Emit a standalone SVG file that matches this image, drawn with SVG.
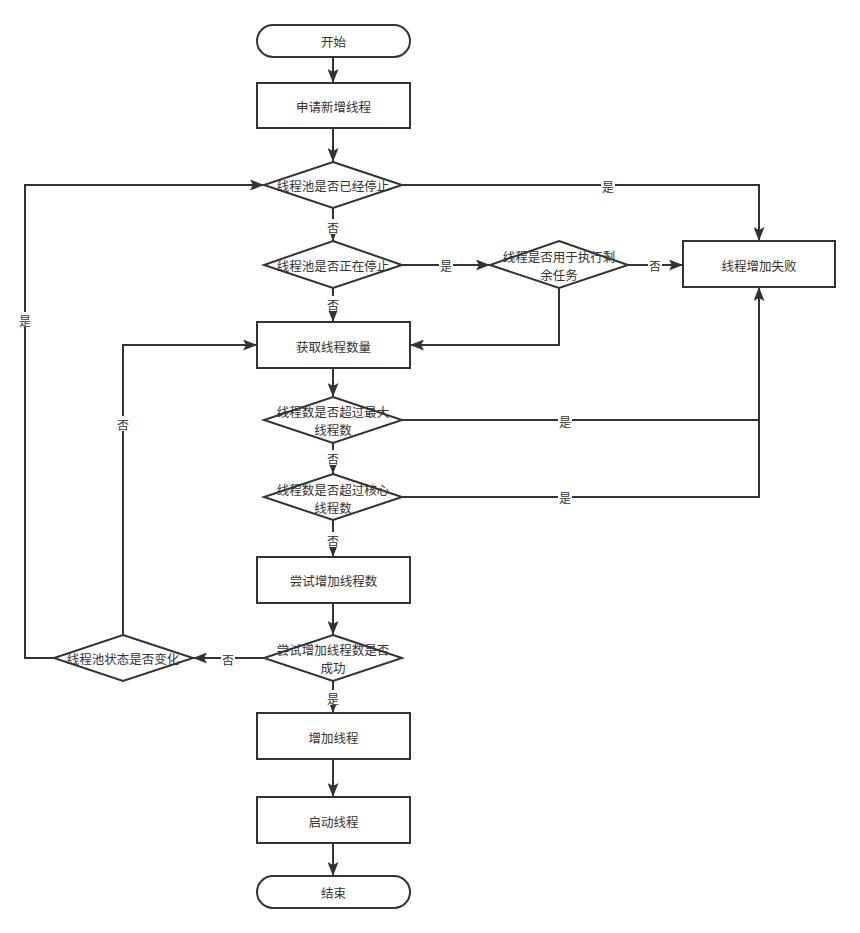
<svg xmlns="http://www.w3.org/2000/svg" width="860" height="933" viewBox="0 0 860 933">
<defs>
<marker id="arr" markerWidth="14" markerHeight="11" refX="14" refY="5.5" orient="auto" markerUnits="userSpaceOnUse">
<path d="M0,0 L14,5.5 L0,11 L3,5.5 z" fill="#333"/>
</marker>
<style>
.n{fill:#fff;stroke:#333;stroke-width:2}
.t{font-family:"Noto Sans CJK SC","Liberation Sans",sans-serif;font-size:12.5px;fill:#333;text-anchor:middle;dominant-baseline:central}
.e{fill:none;stroke:#333;stroke-width:2}
.lb{font-family:"Noto Sans CJK SC","Liberation Sans",sans-serif;font-size:12px;fill:#333;text-anchor:middle;dominant-baseline:central}
.bg{fill:#fff}
</style>
</defs>
<rect width="860" height="933" fill="#fff"/>
<g id="connectors">
<path class="e" d="M333,57 L333,83" marker-end="url(#arr)"/>
<path class="e" d="M333,128 L333,162" marker-end="url(#arr)"/>
<path class="e" d="M402,185 L759,185 L759,241" marker-end="url(#arr)"/>
<path class="e" d="M333,208 L333,241" marker-end="url(#arr)"/>
<path class="e" d="M402,265 L490,265" marker-end="url(#arr)"/>
<path class="e" d="M628,265 L683,265" marker-end="url(#arr)"/>
<path class="e" d="M559,288 L559,345 L410,345" marker-end="url(#arr)"/>
<path class="e" d="M333,288 L333,322" marker-end="url(#arr)"/>
<path class="e" d="M333,368 L333,397" marker-end="url(#arr)"/>
<path class="e" d="M402,420 L759,420 L759,287" marker-end="url(#arr)"/>
<path class="e" d="M402,497 L759,497 L759,420"/>
<path class="e" d="M333,443 L333,474" marker-end="url(#arr)"/>
<path class="e" d="M333,520 L333,557" marker-end="url(#arr)"/>
<path class="e" d="M333,603 L333,635" marker-end="url(#arr)"/>
<path class="e" d="M264,658 L193,658" marker-end="url(#arr)"/>
<path class="e" d="M333,681 L333,713" marker-end="url(#arr)"/>
<path class="e" d="M123,635 L123,345 L257,345" marker-end="url(#arr)"/>
<path class="e" d="M54,658 L25,658 L25,185 L264,185" marker-end="url(#arr)"/>
<path class="e" d="M333,759 L333,797" marker-end="url(#arr)"/>
<path class="e" d="M333,843 L333,876" marker-end="url(#arr)"/>
<g id="edge-labels">
<rect class="bg" x="601" y="178" width="14" height="15"/><text class="lb" x="608" y="186">是</text>
<rect class="bg" x="326" y="219" width="14" height="15"/><text class="lb" x="333" y="227">否</text>
<rect class="bg" x="439" y="257" width="14" height="15"/><text class="lb" x="446" y="265">是</text>
<rect class="bg" x="648" y="257" width="14" height="15"/><text class="lb" x="655" y="265">否</text>
<rect class="bg" x="326" y="296" width="14" height="15"/><text class="lb" x="333" y="304">否</text>
<rect class="bg" x="558" y="413" width="14" height="15"/><text class="lb" x="565" y="421">是</text>
<rect class="bg" x="326" y="450" width="14" height="15"/><text class="lb" x="333" y="458">否</text>
<rect class="bg" x="558" y="489" width="14" height="15"/><text class="lb" x="565" y="497">是</text>
<rect class="bg" x="326" y="532" width="14" height="15"/><text class="lb" x="333" y="540">否</text>
<rect class="bg" x="221" y="651" width="14" height="15"/><text class="lb" x="228" y="659">否</text>
<rect class="bg" x="326" y="690" width="14" height="15"/><text class="lb" x="333" y="698">是</text>
<rect class="bg" x="116" y="416" width="14" height="15"/><text class="lb" x="123" y="424">否</text>
<rect class="bg" x="18" y="312" width="14" height="15"/><text class="lb" x="25" y="320">是</text>
</g>
</g>
<g id="start"><rect class="n" x="257" y="25" width="153" height="32" rx="16"/><text class="t" x="333.5" y="41">开始</text></g>
<g id="apply"><rect class="n" x="257" y="83" width="153" height="45"/><text class="t" x="333.5" y="106">申请新增线程</text></g>
<g id="d-stopped"><polygon class="n" points="333,162 402,185 333,208 264,185"/><text class="t" x="333" y="185">线程池是否已经停止</text></g>
<g id="d-stopping"><polygon class="n" points="333,241 402,265 333,288 264,265"/><text class="t" x="333" y="265">线程池是否正在停止</text></g>
<g id="d-remaining"><polygon class="n" points="559,241 628,265 559,288 490,265"/><text class="t" x="559" y="256">线程是否用于执行剩</text><text class="t" x="559" y="274">余任务</text></g>
<g id="fail"><rect class="n" x="683" y="241" width="152" height="46"/><text class="t" x="759" y="265">线程增加失败</text></g>
<g id="count"><rect class="n" x="257" y="322" width="153" height="46"/><text class="t" x="333.5" y="346">获取线程数量</text></g>
<g id="d-max"><polygon class="n" points="333,397 402,420 333,443 264,420"/><text class="t" x="333" y="411">线程数是否超过最大</text><text class="t" x="333" y="429">线程数</text></g>
<g id="d-core"><polygon class="n" points="333,474 402,497 333,520 264,497"/><text class="t" x="333" y="489">线程数是否超过核心</text><text class="t" x="333" y="507">线程数</text></g>
<g id="try"><rect class="n" x="257" y="557" width="153" height="46"/><text class="t" x="333.5" y="580">尝试增加线程数</text></g>
<g id="d-success"><polygon class="n" points="333,635 402,658 333,681 264,658"/><text class="t" x="333" y="649">尝试增加线程数是否</text><text class="t" x="333" y="667">成功</text></g>
<g id="d-changed"><polygon class="n" points="123,635 193,658 123,681 54,658"/><text class="t" x="123" y="658">线程池状态是否变化</text></g>
<g id="add"><rect class="n" x="257" y="713" width="153" height="46"/><text class="t" x="333.5" y="737">增加线程</text></g>
<g id="launch"><rect class="n" x="257" y="797" width="153" height="46"/><text class="t" x="333.5" y="821">启动线程</text></g>
<g id="end"><rect class="n" x="257" y="876" width="153" height="32" rx="16"/><text class="t" x="333.5" y="892">结束</text></g>
</svg>
